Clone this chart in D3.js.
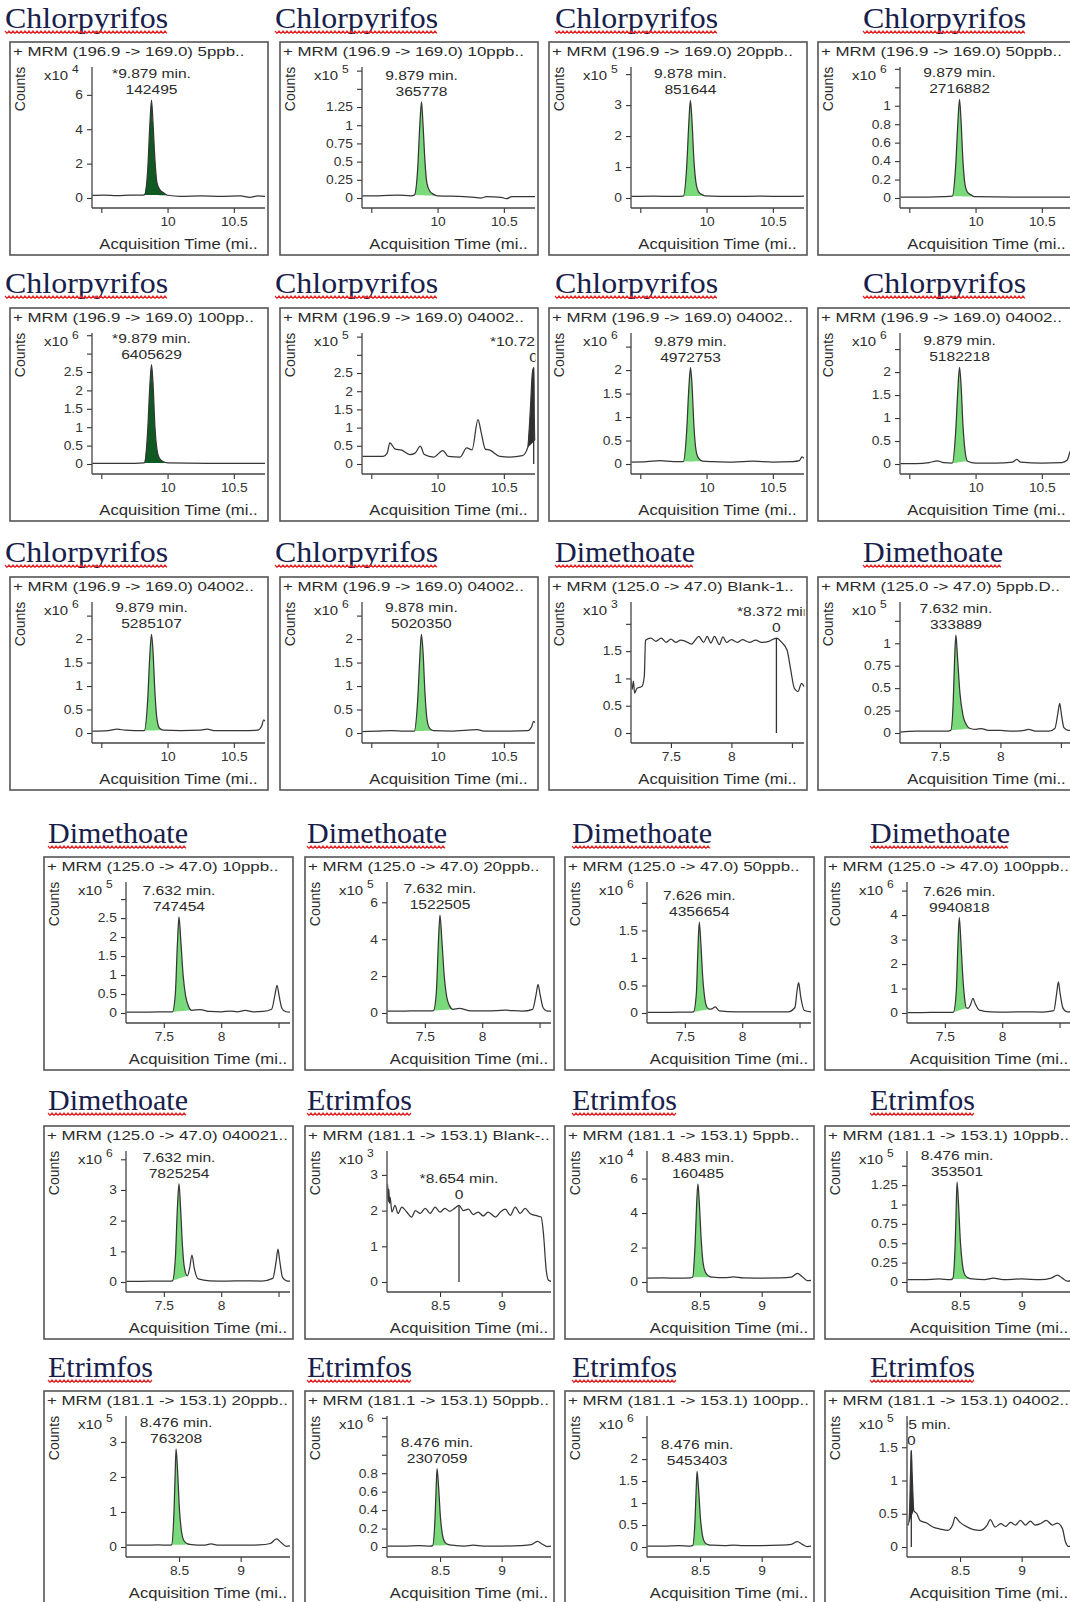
<!DOCTYPE html>
<html>
<head>
<meta charset="utf-8">
<script src="https://cdn.jsdelivr.net/npm/d3@7"></script>
<style>
  html, body { margin: 0; padding: 0; background: #fff; }
  svg { display: block; }
</style>
</head>
<body>
<svg id="chart" width="1070" height="1602"></svg>
<script>
// ---- Data -----------------------------------------------------------------

// Compound of each chromatogram, in reading order (4 per row)
const compound = [
  "Chlorpyrifos", "Chlorpyrifos", "Chlorpyrifos", "Chlorpyrifos",
  "Chlorpyrifos", "Chlorpyrifos", "Chlorpyrifos", "Chlorpyrifos",
  "Chlorpyrifos", "Chlorpyrifos", "Dimethoate", "Dimethoate",
  "Dimethoate", "Dimethoate", "Dimethoate", "Dimethoate",
  "Dimethoate", "Etrimfos", "Etrimfos", "Etrimfos",
  "Etrimfos", "Etrimfos", "Etrimfos", "Etrimfos"
];

// Per-compound MRM transition, retention window and time-axis ticks
const compoundNames = ["Chlorpyrifos", "Dimethoate", "Etrimfos"];
const transitions = ["196.9 -> 169.0", "125.0 -> 47.0", "181.1 -> 153.1"];
const timeWindows = [[9.43, 10.735], [7.17, 8.6], [8.07, 9.4]];
const timeTicks = [[9.5, 10, 10.5], [7.5, 8, 8.5], [8.5, 9]];
const timeTickLabels = [["", "10", "10.5"], ["7.5", "8", ""], ["8.5", "9"]];

// Sample name shown (truncated) in each panel header
const samples = [
  "5ppb..", "10ppb..", "20ppb..", "50ppb..",
  "100pp..", "04002..", "04002..", "04002..",
  "04002..", "04002..", "Blank-1..", "5ppb.D..",
  "10ppb..", "20ppb..", "50ppb..", "100ppb..",
  "040021..", "Blank-..", "5ppb..", "10ppb..",
  "20ppb..", "50ppb..", "100pp..", "04002.."
];

// Retention time (min) of the annotated peak, flag for manual integration, and area
const retention = [
  9.879, 9.879, 9.878, 9.879, 9.879, 10.725, 9.879, 9.879,
  9.879, 9.878, 8.372, 7.632, 7.632, 7.632, 7.626, 7.626,
  7.632, 8.654, 8.483, 8.476, 8.476, 8.476, 8.476, 8.105
];
const starred = [
  true, false, false, false, true, true, false, false,
  false, false, true, false, false, false, false, false,
  false, true, false, false, false, false, false, true
];
const areas = [
  "142495", "365778", "851644", "2716882", "6405629", "0", "4972753", "5182218",
  "5285107", "5020350", "0", "333889", "747454", "1522505", "4356654", "9940818",
  "7825254", "0", "160485", "353501", "763208", "2307059", "5453403", "0"
];

// Count axis: power of ten, top of axis, tick step, highest labelled tick
const exponents = [4, 5, 5, 6, 6, 5, 6, 6, 6, 6, 3, 5, 5, 5, 6, 6, 6, 3, 4, 5, 5, 6, 6, 5];
const countTop = [7.62, 1.8, 4.23, 1.42, 3.56, 3.6, 2.79, 2.85, 2.79, 2.79, 2.4, 1.46,
                  3.45, 7.1, 2.38, 5.35, 4.27, 3.67, 7.6, 1.69, 3.74, 1.42, 2.98, 1.97];
const countStep = [2, .25, 1, .2, .5, .5, .5, .5, .5, .5, .5, .25,
                   .5, 2, .5, 1, 1, 1, 2, .25, 1, .2, .5, .5];
const countLabelMax = [6, 1.25, 3, 1, 2.5, 2.5, 2, 2, 2, 2, 1.5, 1,
                       2.5, 6, 1.5, 4, 3, 3, 6, 1.25, 3, .8, 2, 1.5];

// Chromatogram traces: [time (min), counts / 10^exponent]
const tr01 = [[9.43,.15],[9.52,.17],[9.62,.14],[9.72,.16],[9.8,.16],[9.825,.18],[9.85,1.6],[9.866,4.2],[9.879,5.7],[9.89,4.4],[9.905,2.2],[9.92,.9],[9.94,.5],[9.97,.3],[10.0,.16],[10.1,.1],[10.25,.12],[10.4,.09],[10.55,.12],[10.62,.03],[10.68,.12],[10.735,.1]];
const tr02 = [[9.43,.03],[9.55,.03],[9.7,.04],[9.8,.03],[9.825,.04],[9.85,.4],[9.866,1.0],[9.879,1.32],[9.89,1.02],[9.905,.5],[9.92,.2],[9.94,.1],[9.97,.05],[10.0,.03],[10.2,.02],[10.33,0],[10.37,.02],[10.48,.01],[10.52,-.01],[10.56,.02],[10.735,.02]];
const tr03 = [[9.43,.05],[9.6,.06],[9.75,.05],[9.825,.06],[9.85,1.0],[9.866,2.4],[9.878,3.15],[9.89,2.5],[9.905,1.2],[9.92,.5],[9.94,.2],[9.97,.1],[9.99,.07],[10.2,.05],[10.4,.06],[10.6,.05],[10.735,.06]];
const tr04 = [[9.43,.01],[9.6,.01],[9.75,.015],[9.825,.02],[9.85,.35],[9.866,.8],[9.879,1.07],[9.89,.85],[9.905,.4],[9.92,.15],[9.94,.06],[9.97,.03],[9.99,.015],[10.3,.01],[10.6,.01],[10.735,.01]];
const tr05 = [[9.43,.02],[9.6,.02],[9.75,.02],[9.825,.03],[9.85,.9],[9.866,2.1],[9.879,2.7],[9.89,2.2],[9.905,1.0],[9.92,.4],[9.94,.15],[9.97,.06],[10.0,.03],[10.3,.02],[10.6,.02],[10.735,.02]];
const tr06 = [[9.43,.21],[9.59,.21],[9.62,.3],[9.64,.58],[9.68,.41],[9.73,.38],[9.79,.26],[9.83,.3],[9.87,.49],[9.9,.26],[9.97,.19],[10.04,.37],[10.08,.21],[10.17,.19],[10.22,.44],[10.26,.39],[10.305,1.22],[10.33,.85],[10.36,.41],[10.395,.38],[10.47,.21],[10.545,.19],[10.64,.23],[10.68,.45],[10.7,1.5],[10.715,2.5],[10.725,2.65],[10.73,1.2],[10.735,.65]];
const tr07 = [[9.43,.04],[9.55,.05],[9.65,.07],[9.75,.05],[9.825,.05],[9.85,.7],[9.866,1.6],[9.879,2.05],[9.89,1.7],[9.905,.8],[9.92,.3],[9.94,.12],[9.97,.06],[10.05,.05],[10.2,.04],[10.35,.06],[10.5,.04],[10.65,.05],[10.7,.07],[10.72,.15],[10.735,.12]];
const tr08 = [[9.43,.01],[9.55,.01],[9.65,.03],[9.71,.07],[9.76,.03],[9.825,.02],[9.85,.7],[9.866,1.6],[9.879,2.1],[9.89,1.75],[9.905,.85],[9.92,.3],[9.94,.06],[10.0,.02],[10.15,.02],[10.28,.04],[10.31,.1],[10.34,.04],[10.5,.02],[10.65,.03],[10.69,.08],[10.715,.28],[10.735,.34]];
const tr09 = [[9.43,.04],[9.55,.05],[9.62,.08],[9.68,.06],[9.75,.05],[9.825,.05],[9.85,.7],[9.866,1.65],[9.879,2.1],[9.89,1.75],[9.905,.85],[9.92,.3],[9.94,.1],[9.97,.06],[10.1,.05],[10.25,.06],[10.3,.08],[10.35,.05],[10.55,.05],[10.68,.06],[10.71,.15],[10.725,.28],[10.735,.25]];
const tr10 = [[9.43,.03],[9.55,.04],[9.65,.05],[9.75,.04],[9.825,.04],[9.85,.7],[9.866,1.6],[9.878,2.1],[9.89,1.75],[9.905,.85],[9.92,.3],[9.94,.1],[9.97,.05],[10.1,.04],[10.3,.07],[10.35,.04],[10.55,.04],[10.68,.05],[10.71,.14],[10.725,.25],[10.735,.22]];
const tr11 = [[7.17,.98],[7.18,.8],[7.19,.95],[7.2,.73],[7.22,.82],[7.26,.85],[7.28,1.04],[7.29,1.7],[7.335,1.74],[7.375,1.68],[7.42,1.74],[7.46,1.66],[7.5,1.72],[7.54,1.66],[7.58,1.7],[7.62,1.68],[7.67,1.63],[7.7,1.7],[7.73,1.77],[7.77,1.66],[7.8,1.77],[7.83,1.65],[7.86,1.77],[7.9,1.62],[7.93,1.76],[7.96,1.66],[8.0,1.71],[8.05,1.66],[8.09,1.71],[8.15,1.66],[8.2,1.7],[8.25,1.66],[8.31,1.68],[8.372,1.74],[8.42,1.65],[8.46,1.52],[8.49,1.16],[8.52,.82],[8.55,.76],[8.58,.91],[8.6,.85]];
const tr12 = [[7.17,.01],[7.3,.02],[7.45,.02],[7.55,.02],[7.59,.03],[7.61,.35],[7.622,.85],[7.632,1.09],[7.645,.85],[7.665,.45],[7.69,.2],[7.72,.09],[7.75,.05],[7.8,.04],[7.84,.05],[7.9,.03],[8.0,.03],[8.1,.02],[8.2,.03],[8.23,.04],[8.3,.02],[8.4,.02],[8.45,.05],[8.475,.22],[8.49,.33],[8.505,.2],[8.525,.06],[8.56,.03],[8.6,.03]];
const tr13 = [[7.17,.02],[7.3,.02],[7.45,.03],[7.55,.03],[7.575,.03],[7.6,.5],[7.618,1.8],[7.632,2.53],[7.648,1.9],[7.668,1.0],[7.69,.45],[7.715,.18],[7.745,.07],[7.815,.09],[7.9,.04],[8.0,.03],[8.08,.05],[8.14,.03],[8.21,.07],[8.28,.03],[8.365,.04],[8.44,.1],[8.47,.5],[8.487,.73],[8.505,.45],[8.53,.12],[8.56,.04],[8.6,.02]];
const tr14 = [[7.17,.1],[7.3,.1],[7.45,.12],[7.55,.12],[7.575,.13],[7.6,1.1],[7.618,3.8],[7.632,5.3],[7.648,4.0],[7.668,2.1],[7.69,.9],[7.715,.4],[7.745,.2],[7.8,.25],[7.9,.12],[8.05,.12],[8.2,.15],[8.35,.1],[8.44,.2],[8.47,1.0],[8.487,1.55],[8.505,1.0],[8.53,.3],[8.56,.12],[8.6,.1]];
const tr15 = [[7.17,.01],[7.3,.01],[7.45,.015],[7.55,.015],[7.575,.02],[7.6,.35],[7.614,1.15],[7.626,1.65],[7.64,1.25],[7.656,.65],[7.675,.25],[7.695,.1],[7.715,.07],[7.74,.08],[7.765,.11],[7.8,.04],[7.95,.02],[8.1,.02],[8.25,.02],[8.4,.02],[8.46,.1],[8.478,.4],[8.492,.55],[8.51,.3],[8.54,.05],[8.6,.02]];
const tr16 = [[7.17,.02],[7.3,.02],[7.45,.03],[7.55,.03],[7.575,.04],[7.6,.9],[7.614,2.8],[7.626,3.9],[7.64,2.9],[7.655,1.6],[7.672,.6],[7.69,.2],[7.705,.2],[7.725,.35],[7.745,.6],[7.765,.38],[7.8,.12],[7.9,.05],[8.05,.04],[8.2,.05],[8.35,.04],[8.45,.1],[8.475,.8],[8.49,1.27],[8.505,.8],[8.53,.2],[8.56,.06],[8.6,.04]];
const tr17 = [[7.17,.02],[7.3,.02],[7.45,.03],[7.55,.03],[7.575,.04],[7.6,.75],[7.618,2.4],[7.632,3.2],[7.646,2.4],[7.662,1.2],[7.68,.45],[7.705,.2],[7.725,.45],[7.745,.88],[7.765,.45],[7.8,.1],[7.9,.04],[8.05,.03],[8.2,.04],[8.35,.03],[8.45,.12],[8.48,.7],[8.495,1.07],[8.51,.7],[8.535,.15],[8.57,.04],[8.6,.03]];
const tr18 = [[8.07,2.34],[8.075,2.75],[8.08,2.25],[8.085,2.6],[8.09,2.2],[8.095,2.38],[8.11,1.96],[8.135,2.15],[8.16,1.92],[8.19,2.1],[8.23,1.96],[8.27,1.82],[8.3,2.0],[8.34,1.92],[8.38,2.06],[8.42,1.92],[8.46,2.1],[8.5,1.96],[8.54,2.06],[8.58,1.98],[8.62,2.07],[8.654,2.15],[8.69,2.0],[8.73,2.04],[8.77,1.89],[8.81,1.96],[8.85,1.85],[8.89,1.96],[8.95,1.82],[8.99,1.96],[9.03,2.04],[9.07,1.87],[9.11,2.1],[9.15,1.92],[9.19,2.06],[9.23,1.92],[9.29,1.85],[9.32,1.82],[9.34,1.31],[9.36,.37],[9.38,.05],[9.4,.02]];
const tr19 = [[8.07,.23],[8.2,.24],[8.33,.22],[8.42,.24],[8.44,.28],[8.46,2.2],[8.473,4.6],[8.483,5.7],[8.495,4.5],[8.51,2.4],[8.525,1.1],[8.545,.55],[8.57,.35],[8.6,.28],[8.7,.25],[8.77,.3],[8.85,.24],[9.0,.23],[9.15,.24],[9.24,.28],[9.29,.5],[9.33,.3],[9.37,.08],[9.4,.1]];
const tr20 = [[8.07,.03],[8.2,.03],[8.33,.04],[8.42,.03],[8.44,.04],[8.46,.45],[8.468,.9],[8.476,1.29],[8.488,1.0],[8.503,.52],[8.52,.22],[8.54,.09],[8.57,.05],[8.6,.04],[8.7,.03],[8.77,.05],[8.85,.03],[9.0,.04],[9.15,.03],[9.24,.05],[9.29,.09],[9.33,.05],[9.37,.01],[9.4,.02]];
const tr21 = [[8.07,.05],[8.2,.05],[8.33,.06],[8.42,.05],[8.44,.06],[8.46,1.1],[8.468,2.0],[8.476,2.8],[8.488,2.2],[8.503,1.1],[8.52,.45],[8.54,.18],[8.57,.09],[8.6,.07],[8.7,.05],[8.76,.09],[8.82,.05],[9.0,.05],[9.15,.06],[9.24,.1],[9.29,.23],[9.33,.12],[9.37,.02],[9.4,.03]];
const tr22 = [[8.07,.01],[8.2,.01],[8.33,.015],[8.42,.01],[8.44,.015],[8.46,.33],[8.468,.62],[8.476,.85],[8.488,.66],[8.503,.33],[8.52,.13],[8.54,.05],[8.57,.025],[8.6,.02],[8.7,.01],[8.77,.02],[8.85,.01],[9.0,.01],[9.15,.015],[9.24,.025],[9.29,.06],[9.33,.03],[9.37,.005],[9.4,.01]];
const tr23 = [[8.07,.02],[8.2,.02],[8.33,.03],[8.42,.02],[8.44,.03],[8.46,.65],[8.468,1.25],[8.476,1.72],[8.488,1.33],[8.503,.67],[8.52,.26],[8.54,.1],[8.57,.05],[8.6,.04],[8.7,.03],[8.77,.04],[8.85,.03],[9.0,.03],[9.15,.04],[9.24,.06],[9.29,.12],[9.33,.06],[9.37,.01],[9.4,.02]];
const tr24 = [[8.07,.35],[8.08,.33],[8.09,.5],[8.1,1.2],[8.105,1.45],[8.112,1.1],[8.125,.55],[8.15,.5],[8.175,.4],[8.23,.36],[8.28,.3],[8.34,.27],[8.4,.25],[8.44,.33],[8.46,.45],[8.5,.37],[8.56,.3],[8.61,.26],[8.66,.25],[8.72,.33],[8.745,.41],[8.785,.3],[8.83,.35],[8.87,.31],[8.91,.37],[8.95,.33],[8.99,.4],[9.03,.33],[9.07,.39],[9.11,.33],[9.15,.35],[9.2,.4],[9.25,.33],[9.29,.36],[9.33,.28],[9.355,.08],[9.38,.01],[9.4,.01]];
const traces = [tr01, tr02, tr03, tr04, tr05, tr06, tr07, tr08, tr09, tr10, tr11, tr12,
                tr13, tr14, tr15, tr16, tr17, tr18, tr19, tr20, tr21, tr22, tr23, tr24];

// Integrated region of each trace [start, end] (min) and how it is shaded
const integrations = [
  [9.825, 10.0], [9.825, 10.0], [9.825, 9.99], [9.825, 9.99], [9.825, 10.0], [10.68, 10.735],
  [9.825, 9.97], [9.825, 9.94], [9.825, 9.97], [9.825, 9.97], null, [7.59, 7.75],
  [7.575, 7.745], [7.575, 7.745], [7.575, 7.715], [7.575, 7.69], [7.575, 7.705], null,
  [8.44, 8.6], [8.44, 8.6], [8.44, 8.6], [8.44, 8.6], [8.44, 8.6], [8.08, 8.125]
];
const shading = [
  "dark", "light", "light", "light", "dark", "spike",
  "light", "light", "light", "light", null, "light",
  "light", "light", "light", "light", "light", null,
  "light", "light", "light", "light", "light", "spike"
];

// ---- Drawing ----------------------------------------------------------------

const fills = { light: "#7ad97a", dark: "#0f5a22", spike: "#2e2e2e" };
const titleStretch = { Chlorpyrifos: 1.065, Dimethoate: 1, Etrimfos: 1 };
const sans = "'Liberation Sans', Arial, Helvetica, sans-serif";
const serif = "'Liberation Serif', 'Times New Roman', Times, serif";
const ink = "#2b2b2b";

const svg = d3.select("#chart");
const defs = svg.append("defs");

// Panel frame geometry: upper three rows and lower three rows use slightly different grids
function frame(i) {
  const r = Math.floor(i / 4), c = i % 4;
  if (r < 3) {
    return { x: [10, 280, 549, 818][c], y: [42, 308, 577][r], w: 258, h: 213,
             tx: [5, 275, 555, 863][c], ty: [28, 293, 562][r] };
  }
  return { x: [44, 305, 565, 825][c], y: [857, 1126, 1391][r - 3], w: 249, h: 213,
           tx: [48, 307, 572, 870][c], ty: [843, 1110, 1377][r - 3] };
}

const fmt = v => String(+v.toFixed(2));

traces.forEach((tr, i) => {
  const b = frame(i);
  const ci = compoundNames.indexOf(compound[i]);
  const left = b.x + 82, right = b.x + b.w - 3;
  const zeroY = b.y + 156, topY = b.y + 25, axisY = b.y + 166;

  const x = d3.scaleLinear().domain(timeWindows[ci]).range([left, right]);
  const y = d3.scaleLinear().domain([0, countTop[i]]).range([zeroY, topY]);

  // Compound title with a wavy spell-check underline
  const sx = titleStretch[compound[i]];
  const title = svg.append("text")
    .attr("transform", `translate(${b.tx},${b.ty}) scale(${sx},1)`)
    .attr("font-family", serif).attr("font-size", 30)
    .attr("fill", "#18204a")
    .text(compound[i]);
  const tw = title.node().getComputedTextLength() * sx;
  const wave = d3.range(0, Math.floor(tw / 2) + 1)
    .map(k => [b.tx + k * 2, b.ty + (k % 2 ? 5.4 : 3)]);
  svg.append("path")
    .attr("d", d3.line()(wave))
    .attr("fill", "none").attr("stroke", "#e0282a").attr("stroke-width", 1.2);

  // Clip regions
  defs.append("clipPath").attr("id", "frame" + i)
    .append("rect").attr("x", b.x).attr("y", b.y).attr("width", b.w).attr("height", b.h);
  defs.append("clipPath").attr("id", "plot" + i)
    .append("rect").attr("x", left + 0.5).attr("y", b.y + 16)
    .attr("width", right - left).attr("height", axisY - b.y - 16);

  const g = svg.append("g").attr("clip-path", `url(#frame${i})`);

  g.append("rect")
    .attr("x", b.x).attr("y", b.y).attr("width", b.w).attr("height", b.h)
    .attr("fill", "#fff");

  // Header line
  g.append("text")
    .attr("transform", `translate(${b.x + 3},${b.y + 14}) scale(1.25,1)`)
    .attr("font-family", sans).attr("font-size", 13.5).attr("fill", ink)
    .text(`+ MRM (${transitions[ci]}) ${samples[i]}`);

  // Counts axis title and multiplier
  g.append("text")
    .attr("transform", `translate(${b.x + 15},${b.y + 47}) rotate(-90)`)
    .attr("text-anchor", "middle")
    .attr("font-family", sans).attr("font-size", 14).attr("fill", ink)
    .text("Counts");
  g.append("text")
    .attr("transform", `translate(${b.x + 58},${b.y + 38}) scale(1.15,1)`)
    .attr("text-anchor", "end")
    .attr("font-family", sans).attr("font-size", 13).attr("fill", ink)
    .text("x10");
  g.append("text")
    .attr("transform", `translate(${b.x + 62},${b.y + 31}) scale(1.15,1)`)
    .attr("font-family", sans).attr("font-size", 10.5).attr("fill", ink)
    .text(exponents[i]);

  // Count axis ticks
  const yTicks = d3.range(0, countTop[i] + 1e-9, countStep[i]);
  const gy = g.append("g")
    .attr("transform", `translate(${left},0)`)
    .call(d3.axisLeft(y).tickValues(yTicks).tickSize(5).tickPadding(3)
      .tickFormat(v => v <= countLabelMax[i] + 1e-9 ? fmt(v) : ""));
  gy.select(".domain").remove();
  gy.attr("font-family", sans).attr("font-size", 12).attr("color", "#333");
  gy.selectAll("text").attr("transform", "scale(1.15,1)");
  gy.selectAll("line").attr("stroke-width", 1.1);

  // Time axis ticks
  const gx = g.append("g")
    .attr("transform", `translate(0,${axisY})`)
    .call(d3.axisBottom(x).tickValues(timeTicks[ci]).tickSize(5).tickPadding(4)
      .tickFormat((d, k) => timeTickLabels[ci][k]));
  gx.select(".domain").remove();
  gx.attr("font-family", sans).attr("font-size", 12).attr("color", "#333");
  gx.selectAll("text").attr("transform", "scale(1.15,1)");
  gx.selectAll("line").attr("stroke-width", 1.1);

  // Axis lines
  g.append("line")
    .attr("x1", left).attr("x2", left).attr("y1", topY).attr("y2", axisY)
    .attr("stroke", "#444").attr("stroke-width", 1.3);
  g.append("line")
    .attr("x1", left).attr("x2", right).attr("y1", axisY).attr("y2", axisY)
    .attr("stroke", "#444").attr("stroke-width", 1.3);

  // Time axis title
  g.append("text")
    .attr("transform", `translate(${(left + right) / 2},${b.y + 207}) scale(1.15,1)`)
    .attr("text-anchor", "middle")
    .attr("font-family", sans).attr("font-size", 14.5).attr("fill", ink)
    .text("Acquisition Time (mi..");

  const plot = g.append("g").attr("clip-path", `url(#plot${i})`);

  // Integrated peak area
  const span = integrations[i];
  if (span) {
    const seg = tr.filter(d => d[0] >= span[0] - 1e-9 && d[0] <= span[1] + 1e-9);
    const base = d3.scaleLinear()
      .domain([seg[0][0], seg[seg.length - 1][0]])
      .range([seg[0][1], seg[seg.length - 1][1]]);
    plot.append("path")
      .datum(seg)
      .attr("d", d3.area()
        .x(d => x(d[0]))
        .y0(d => y(base(d[0])))
        .y1(d => y(d[1]))
        .curve(d3.curveMonotoneX))
      .attr("fill", fills[shading[i]]);
  }

  // Trace
  plot.append("path")
    .datum(tr)
    .attr("d", d3.line().x(d => x(d[0])).y(d => y(d[1])).curve(d3.curveMonotoneX))
    .attr("fill", "none").attr("stroke", "#363636").attr("stroke-width", 1.25)
    .attr("stroke-linejoin", "round");

  // Height of the trace at the annotated retention time
  const rt = retention[i];
  const near = tr.filter(d => Math.abs(d[0] - rt) <= 0.02);
  const apex = d3.max(near, d => d[1]);

  // Retention-time marker for peaks with no integrated response
  if (areas[i] === "0") {
    plot.append("line")
      .attr("x1", x(rt)).attr("x2", x(rt))
      .attr("y1", y(apex)).attr("y2", y(0))
      .attr("stroke", "#333").attr("stroke-width", 1.3);
  }

  // Peak annotation
  const line2 = Math.max(y(apex) - 6, b.y + 48);
  const ann = g.append("g").attr("clip-path", `url(#plot${i})`);
  ann.append("text")
    .attr("transform", `translate(${x(rt)},${line2 - 16}) scale(1.2,1)`)
    .attr("text-anchor", "middle")
    .attr("font-family", sans).attr("font-size", 13).attr("fill", ink)
    .text(`${starred[i] ? "*" : ""}${rt.toFixed(3)} min.`);
  ann.append("text")
    .attr("transform", `translate(${x(rt)},${line2}) scale(1.2,1)`)
    .attr("text-anchor", "middle")
    .attr("font-family", sans).attr("font-size", 13).attr("fill", ink)
    .text(areas[i]);

  // Frame
  svg.append("rect")
    .attr("x", b.x).attr("y", b.y).attr("width", b.w).attr("height", b.h)
    .attr("fill", "none").attr("stroke", "#555").attr("stroke-width", 1.6);
});
</script>
</body>
</html>
